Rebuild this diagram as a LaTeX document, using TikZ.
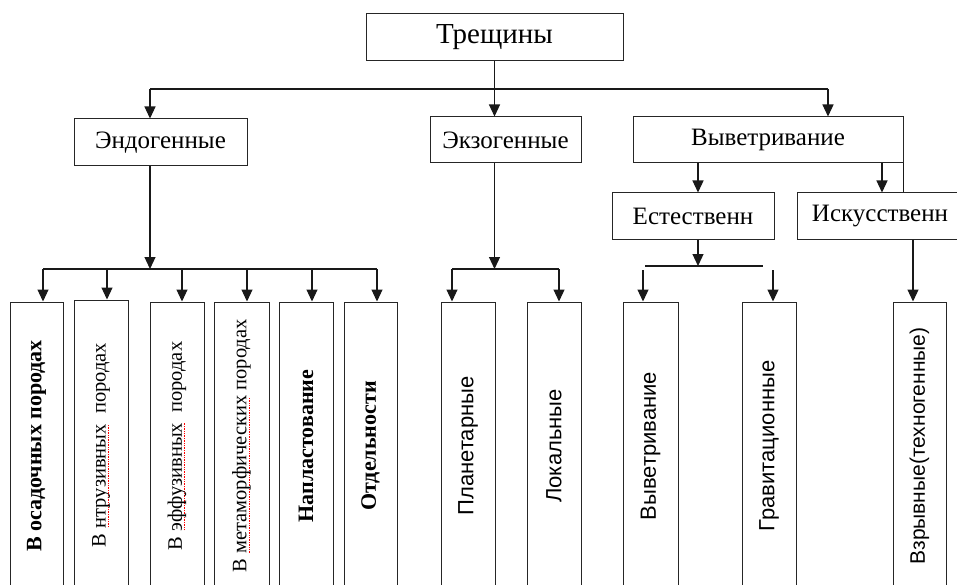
\documentclass[tikz,border=0pt]{standalone}
\usepackage{fontspec}
\setmainfont{Liberation Serif}
\newfontfamily\arialf{Liberation Sans}
\usetikzlibrary{arrows.meta}
\newsavebox\spbox
\newcommand\spellmark[1]{\sbox\spbox{#1}\rlap{\color{red}\leaders\hbox to 2.4pt{\hss\rule[-3.2pt]{1.4pt}{0.9pt}}\hskip\wd\spbox}\usebox\spbox}
\tikzset{
  box/.style={draw=black!85, line width=1pt, inner sep=0pt, fill=white},
  hbox/.style={box, font=\fontsize{25}{30}\selectfont},
  vbox/.style={box, minimum height=288pt},
  vser/.style={vbox, font=\fontsize{20.5}{24}\selectfont},
  vserb/.style={vbox, font=\fontsize{22}{26}\selectfont\bfseries},
  vsans/.style={vbox, font=\fontsize{22}{26}\selectfont\arialf},
  ln/.style={line width=1.2pt, draw=black!90},
  arr/.style={ln, -{Triangle[length=12pt,width=11pt]}},
}
\begin{document}
\begin{tikzpicture}[x=1pt,y=-1pt]
\useasboundingbox (0,0) rectangle (957,585);
\clip (0,0) rectangle (957,585);
% top level
\node[hbox, minimum width=257pt, minimum height=47pt, font=\fontsize{29}{34}\selectfont] (tr) at (494.5,37.5) {Трещины};
\node[hbox, minimum width=173pt, minimum height=47pt] (en) at (160.5,142.5) {Эндогенные};
\node[hbox, minimum width=151pt, minimum height=46pt] (ex) at (505.5,140) {Экзогенные};
\node[hbox, minimum width=270pt, minimum height=46pt] (vy) at (768,140) {Выветривание};
\node[hbox, minimum width=162pt, minimum height=46pt] (es) at (693,216) {Естественн};
\node[hbox, minimum width=166pt, minimum height=46pt] (is) at (880,216) {Искусственн};
% bottom boxes
\node[vserb, minimum width=53pt] (b1) at (36.5,446) {\rotatebox{90}{В осадочных породах}};
\node[vser, minimum width=54pt, minimum height=290pt] (b2) at (101,445) {\rotatebox{90}{В \spellmark{нтрузивных}\ \ породах}};
\node[vser, minimum width=54pt] (b3) at (177,446) {\rotatebox{90}{В \spellmark{эффузивных}\ \ породах}};
\node[vser, minimum width=55pt] (b4) at (241.5,446) {\rotatebox{90}{В \spellmark{метаморфических} породах}};
\node[vserb, minimum width=54pt] (b5) at (306,446) {\rotatebox{90}{Напластование}};
\node[vserb, minimum width=53pt] (b6) at (370.5,446) {\rotatebox{90}{Отдельности}};
\node[vsans, minimum width=54pt] (b7) at (468,446) {\rotatebox{90}{Планетарные}};
\node[vsans, minimum width=54pt] (b8) at (554,446) {\rotatebox{90}{Локальные}};
\node[vsans, minimum width=55pt] (b9) at (650.5,446) {\rotatebox{90}{Выветривание}};
\node[vsans, minimum width=54pt] (b10) at (769,446) {\rotatebox{90}{Гравитационные}};
\node[vsans, minimum width=53pt, font=\fontsize{21}{25}\selectfont\arialf] (b11) at (919.5,446) {\rotatebox{90}{Взрывные(техногенные)}};
% level 1 connectors
\coordinate (t0L) at (150,89);
\coordinate (t0R) at (828,89);
\draw[ln] (t0L) -- (t0R);
\draw[arr] (tr.south) -- (tr.south |- ex.north);
\draw[arr] (t0L) -- (t0L |- en.north);
\draw[arr] (t0R) -- (t0R |- vy.north);
% endogenous
\coordinate (ec) at (150,269);
\draw[arr] (ec |- en.south) -- (ec);
\coordinate (e1) at (43,269);
\coordinate (e2) at (107,269);
\coordinate (e3) at (182,269);
\coordinate (e4) at (247,269);
\coordinate (e5) at (312,269);
\coordinate (e6) at (377,269);
\draw[ln] (e1) -- (e6);
\draw[arr] (e1) -- (e1 |- b1.north);
\draw[arr] (e2) -- (e2 |- b2.north);
\draw[arr] (e3) -- (e3 |- b3.north);
\draw[arr] (e4) -- (e4 |- b4.north);
\draw[arr] (e5) -- (e5 |- b5.north);
\draw[arr] (e6) -- (e6 |- b6.north);
% exogenous
\coordinate (x1) at (452,269);
\coordinate (x2) at (559,269);
\draw[arr] (tr.south |- ex.south) -- (tr.south |- x1);
\draw[ln] (x1) -- (x2);
\draw[arr] (x1) -- (x1 |- b7.north);
\draw[arr] (x2) -- (x2 |- b8.north);
% weathering
\coordinate (v1) at (698,163);
\coordinate (v2) at (882,163);
\draw[arr] (v1) -- (v1 |- es.north);
\draw[arr] (v2) -- (v2 |- is.north);
\draw[ln, line width=1pt] (vy.south east) -- (vy.south east |- is.north);
\coordinate (n0) at (698,266);
\coordinate (nL) at (645,266);
\coordinate (nR) at (763,266);
\draw[arr] (n0 |- es.south) -- (n0);
\draw[ln] (nL) -- (nR);
\coordinate (n1) at (643,270);
\coordinate (n2) at (773,270);
\draw[arr] (n1) -- (n1 |- b9.north);
\draw[arr] (n2) -- (n2 |- b10.north);
\coordinate (i1) at (913,239);
\draw[arr] (i1 |- is.south) -- (i1 |- b11.north);
\end{tikzpicture}
\end{document}
